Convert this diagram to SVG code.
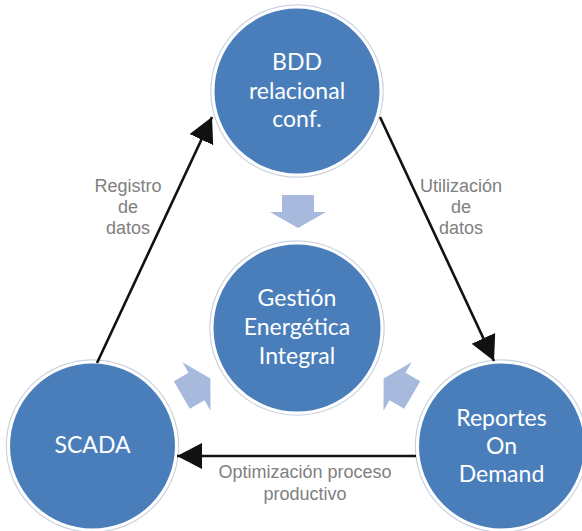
<svg xmlns="http://www.w3.org/2000/svg" width="582" height="531" viewBox="0 0 582 531">
  <style>
    .node circle.fill { fill: #4a7ebb; stroke: #ffffff; stroke-width: 3; }
    .node circle.halo { fill: none; stroke: #c9d3e0; stroke-width: 1.5; }
    .node text { font-family: Lato, "Open Sans", sans-serif; font-size: 23px; fill: #ffffff; text-anchor: middle; }
    .blk { fill: #a7b9dc; }
    .conn line { stroke: #111111; stroke-width: 2.6; fill: none; }
    .lbl { font-family: "Liberation Sans", Arial, sans-serif; font-size: 18px; fill: #808080; text-anchor: middle; }
  </style>
  <defs>
    <marker id="ah" markerUnits="userSpaceOnUse" markerWidth="28" markerHeight="28" refX="25" refY="13" orient="auto">
      <path d="M0,0 L25,13 L0,26 z" fill="#111111"/>
    </marker>
    <polygon id="blkArrow" points="-17,-16 0,-16 0,-28 16,0 0,28 0,16 -17,16"/>
  </defs>
  <rect width="582" height="531" fill="#ffffff"/>

  <g id="block-arrows">
    <use href="#blkArrow" class="blk" transform="translate(298,212) rotate(90)"/>
    <use href="#blkArrow" class="blk" transform="translate(196.5,386.5) rotate(-30)"/>
    <use href="#blkArrow" class="blk" transform="translate(397.5,386.5) rotate(-150)"/>
  </g>

  <g id="node-bdd" class="node">
    <circle class="halo" cx="297" cy="91" r="86"/>
    <circle class="fill" cx="297" cy="91" r="84"/>
    <text x="297" y="70">BDD</text>
    <text x="297" y="99">relacional</text>
    <text x="297" y="127">conf.</text>
  </g>

  <g id="node-gestion" class="node">
    <circle class="halo" cx="297" cy="328" r="87"/>
    <circle class="fill" cx="297" cy="328" r="85"/>
    <text x="297" y="306">Gestión</text>
    <text x="297" y="335">Energética</text>
    <text x="297" y="364">Integral</text>
  </g>

  <g id="node-scada" class="node">
    <circle class="halo" cx="92.5" cy="446" r="86"/>
    <circle class="fill" cx="92.5" cy="446" r="84"/>
    <text x="92.5" y="453">SCADA</text>
  </g>

  <g id="node-reportes" class="node">
    <circle class="halo" cx="501.5" cy="446" r="86"/>
    <circle class="fill" cx="501.5" cy="446" r="84"/>
    <text x="501.5" y="426">Reportes</text>
    <text x="501.5" y="454">On</text>
    <text x="501.5" y="482">Demand</text>
  </g>

  <g id="connectors" class="conn">
    <line x1="97" y1="363" x2="212" y2="117" marker-end="url(#ah)"/>
    <line x1="380" y1="117" x2="494" y2="361" marker-end="url(#ah)"/>
    <line x1="416" y1="456" x2="177" y2="456" marker-end="url(#ah)"/>
  </g>

  <g id="labels">
    <text class="lbl" x="128" y="192">Registro</text>
    <text class="lbl" x="128" y="213">de</text>
    <text class="lbl" x="128" y="234">datos</text>
    <text class="lbl" x="461" y="192">Utilización</text>
    <text class="lbl" x="461" y="213">de</text>
    <text class="lbl" x="461" y="234">datos</text>
    <text class="lbl" x="305" y="478">Optimización proceso</text>
    <text class="lbl" x="305" y="500">productivo</text>
  </g>
</svg>
